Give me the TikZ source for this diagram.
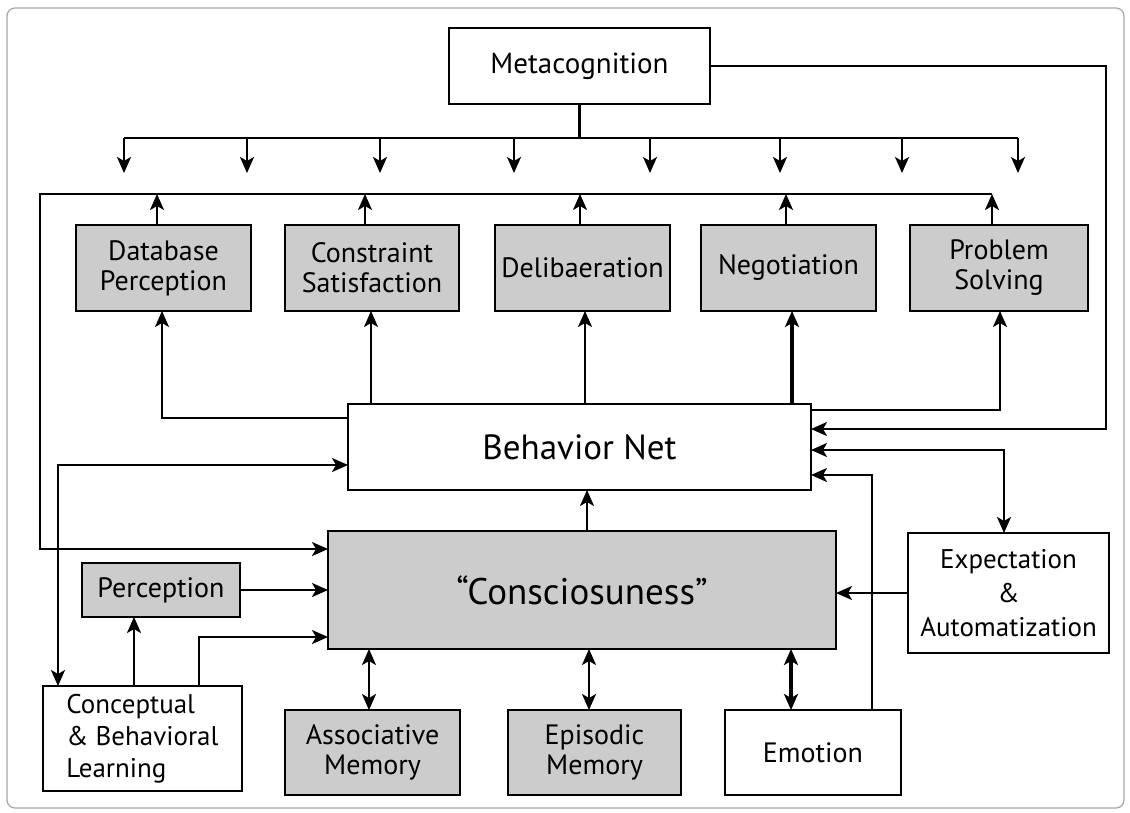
\documentclass[tikz,border=0pt]{standalone}
\usepackage{fontspec}
\setmainfont{PT Sans}
\usetikzlibrary{arrows.meta,calc}
\tikzset{
  box/.style={draw, line width=2.4pt, inner sep=0pt, outer sep=0pt, align=center, fill=white,
              font=\fontsize{28}{30}\selectfont},
  gbox/.style={box, fill=black!20},
  arr/.style={line width=2.2pt, -{Stealth[length=16pt,width=14pt,inset=4pt]}},
  arrtwo/.style={line width=2.2pt, {Stealth[length=16pt,width=14pt,inset=4pt]}-{Stealth[length=16pt,width=14pt,inset=4pt]}},
  ln/.style={line width=2.2pt},
}
\begin{document}
\begin{tikzpicture}[x=1pt,y=-1pt]
\useasboundingbox (0,0) rectangle (1130,812);
\draw[gray!70, line width=1.2pt, rounded corners=8pt] (7,8) rectangle (1124,808);

% nodes
\node[box, minimum width=261, minimum height=76, font=\fontsize{29}{32}\selectfont] (meta) at (579.5,66) {Metacognition};
\node[gbox, minimum width=175, minimum height=86] (db) at (163.5,268) {Database\\Perception};
\node[gbox, minimum width=174, minimum height=86] (cs) at (372,268) {Constraint\\Satisfaction};
\node[gbox, minimum width=175, minimum height=86] (del) at (582.5,268) {Delibaeration};
\node[gbox, minimum width=175, minimum height=86] (neg) at (788.5,268) {Negotiation};
\node[gbox, minimum width=178, minimum height=86] (ps) at (999,268) {Problem\\Solving};
\node[box, minimum width=463, minimum height=86, font=\fontsize{35}{38}\selectfont] (bn) at (579.5,447) {Behavior Net};
\node[gbox, minimum width=508, minimum height=118, font=\fontsize{37}{40}\selectfont] (cons) at (582,590) {“Consciosuness”};
\node[gbox, minimum width=158, minimum height=54] (perc) at (161,590) {Perception};
\node[box, minimum width=201, minimum height=120, font=\fontsize{27}{34}\selectfont] (exp) at (1008.5,593) {Expectation\\\&\\Automatization};
\node[box, minimum width=199, minimum height=105, align=left, font=\fontsize{27}{32}\selectfont] (concept) at (142.5,738.5) {Conceptual\\\& Behavioral\\Learning};
\node[gbox, minimum width=175, minimum height=85] (assoc) at (372.5,752.5) {Associative\\Memory};
\node[gbox, minimum width=173, minimum height=85] (epi) at (594.5,752.5) {Episodic\\Memory};
\node[box, minimum width=176, minimum height=85] (emo) at (813,752.5) {Emotion};

% metacognition bus
\coordinate (b1) at (124,138);
\coordinate (b2) at (247,138);
\coordinate (b3) at (380,138);
\coordinate (b4) at (514,138);
\coordinate (b5) at (650,138);
\coordinate (b6) at (780,138);
\coordinate (b7) at (902,138);
\coordinate (b8) at (1018,138);
\coordinate (tipy) at (0,173);
\draw[ln] (meta.south) -- (meta.south |- b1);
\draw[ln] (b1) -- (b8);
\foreach \i in {1,...,8} { \draw[arr] (b\i) -- (b\i |- tipy); }

% metacognition to behavior net
\coordinate (r1) at (1106,429);
\draw[arr] (meta.east) -| (r1) -- (r1 -| bn.east);

% frame from top boxes to consciousness
\coordinate (f1) at (157,194);
\coordinate (f2) at (365,194);
\coordinate (f3) at (580,194);
\coordinate (f4) at (786,194);
\coordinate (f5) at (992,194);
\coordinate (fl) at (40,194);
\coordinate (fb) at (40,549);
\draw[arr] (db.north -| f1) -- (f1);
\draw[arr] (cs.north -| f2) -- (f2);
\draw[arr] (del.north -| f3) -- (f3);
\draw[arr] (neg.north -| f4) -- (f4);
\draw[arr] (ps.north -| f5) -- (f5);
\draw[arr] (f5) -- (fl) -- (fb) -- (fb -| cons.west);

% behavior net to top boxes
\coordinate (d1) at (162,418);
\draw[arr] (d1 -| bn.west) -- (d1) -- (d1 |- db.south);
\coordinate (c1) at (371,0);
\draw[arr] (c1 |- bn.north) -- (c1 |- cs.south);
\coordinate (c2) at (585,0);
\draw[arr] (c2 |- bn.north) -- (c2 |- del.south);
\coordinate (c3) at (792,0);
\draw[arr, line width=3.4pt] (c3 |- bn.north) -- (c3 |- neg.south);
\coordinate (p1) at (1000,410);
\draw[arr] (p1 -| bn.east) -- (p1) -- (p1 |- ps.south);

% right side into behavior net
\coordinate (e1) at (1004,450);
\draw[arrtwo] (e1 -| bn.east) -- (e1) -- (e1 |- exp.north);
\coordinate (m1) at (872,475);
\draw[arr] (m1 |- emo.north) -- (m1) -- (m1 -| bn.east);

% consciousness to behavior net
\coordinate (c4) at (587,0);
\draw[arr] (c4 |- cons.north) -- (c4 |- bn.south);

% left side
\coordinate (l1) at (58,465);
\draw[arrtwo] (l1 -| bn.west) -- (l1) -- (l1 |- concept.north);
\draw[arr] (perc.east) -- (perc.east -| cons.west);
\coordinate (k1) at (134,0);
\draw[arr] (k1 |- concept.north) -- (k1 |- perc.south);
\coordinate (k2) at (199,637);
\draw[arr] (k2 |- concept.north) -- (k2) -- (k2 -| cons.west);

% expectation to consciousness
\draw[arr] (exp.west) -- (exp.west -| cons.east);

% memories
\coordinate (a1) at (369,0);
\draw[arrtwo] (a1 |- cons.south) -- (a1 |- assoc.north);
\coordinate (a2) at (589,0);
\draw[arrtwo] (a2 |- cons.south) -- (a2 |- epi.north);
\coordinate (a3) at (791,0);
\draw[arrtwo, line width=3.4pt] (a3 |- cons.south) -- (a3 |- emo.north);
\end{tikzpicture}
\end{document}
